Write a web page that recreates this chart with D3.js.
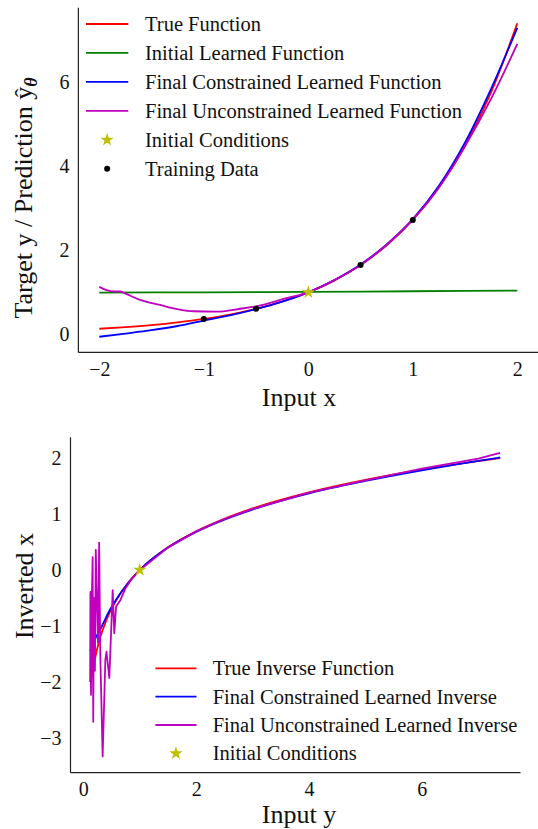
<!DOCTYPE html>
<html>
<head>
<meta charset="utf-8">
<script src="https://cdn.jsdelivr.net/npm/d3@7"></script>
<style>
  body { margin: 0; background: #fff; }
  svg { display: block; }
  text { font-family: "Liberation Serif", "Times New Roman", serif; fill: #111; }
</style>
</head>
<body>
<div class="chart"></div>
<script>
// ---- top panel data : y against x ----
const trueX = [-2, -1.75, -1.5, -1.25, -1, -0.75, -0.5, -0.25, 0, 0.25, 0.5, 0.75, 1, 1.25, 1.5, 1.75, 2];
const trueY = [0.135, 0.174, 0.223, 0.287, 0.368, 0.472, 0.607, 0.779, 1.0, 1.284, 1.649, 2.117, 2.718, 3.490, 4.482, 5.755, 7.389];

const initX = [-2, -1, 0, 1, 2];
const initY = [0.995, 1.0, 1.01, 1.025, 1.04];

const consX = [-2, -1.75, -1.5, -1.25, -1, -0.75, -0.5, -0.25, 0, 0.25, 0.5, 0.75, 1, 1.25, 1.5, 1.75, 2];
const consY = [-0.055, 0.02, 0.10, 0.20, 0.33, 0.45, 0.60, 0.78, 1.0, 1.29, 1.66, 2.14, 2.74, 3.53, 4.56, 5.84, 7.28];

const unconX = [-2, -1.93, -1.86, -1.8, -1.75, -1.61, -1.42, -1.23, -1.1, -0.88, -0.65, -0.49, -0.21, 0, 0.25, 0.5, 0.75, 1, 1.25, 1.5, 1.75, 2];
const unconY = [1.13, 1.05, 1.02, 1.02, 0.97, 0.82, 0.70, 0.59, 0.55, 0.54, 0.61, 0.67, 0.86, 1.0, 1.29, 1.65, 2.13, 2.73, 3.49, 4.47, 5.60, 6.90];

const trainX = [-1, -0.5, 0.5, 1];
const trainY = [0.368, 0.607, 1.649, 2.718];

const initCond = [0, 1];      // (x, y)
const initCondInv = [1, 0];   // (y, x)

// ---- bottom panel data : x against y ----
const invTrueY = [0.135, 0.2, 0.3, 0.4, 0.5, 0.6, 0.8, 1.0, 1.5, 2, 2.5, 3, 4, 5, 6, 7, 7.389];
const invTrueX = [-2.0, -1.61, -1.20, -0.92, -0.69, -0.51, -0.22, 0, 0.405, 0.693, 0.916, 1.099, 1.386, 1.609, 1.792, 1.946, 2.0];

const invConsY = [0.12, 0.2, 0.33, 0.45, 0.6, 0.78, 1.0, 1.5, 2, 2.5, 3, 4, 5, 6, 7, 7.39];
const invConsX = [-1.45, -1.25, -1.0, -0.75, -0.5, -0.25, 0, 0.40, 0.68, 0.90, 1.08, 1.37, 1.59, 1.78, 1.95, 2.01];

const invUnconY = [0.12, 0.125, 0.135, 0.15, 0.165, 0.175, 0.19, 0.205, 0.22, 0.24, 0.26, 0.28, 0.30, 0.342, 0.39, 0.41, 0.46, 0.50, 0.52, 0.548, 0.58, 0.65, 0.75, 0.85, 1.0, 1.5, 2, 2.5, 3, 4, 5, 6, 7, 7.39];
const invUnconX = [-2.0, -0.39, -2.23, -0.5, 0.23, -2.71, -0.5, -1.8, 0.36, -0.5, -1.3, 0.49, -1.5, -3.33, -1.6, -1.46, -1.93, -0.9, -0.36, -1.13, -0.65, -0.55, -0.32, -0.17, 0, 0.40, 0.69, 0.91, 1.09, 1.38, 1.60, 1.81, 1.99, 2.09];

const topXTicks = [-2, -1, 0, 1, 2];
const topYTicks = [0, 2, 4, 6];
const botXTicks = [0, 2, 4, 6];
const botYTicks = [-3, -2, -1, 0, 1, 2];

const topLegend = ["True Function", "Initial Learned Function", "Final Constrained Learned Function", "Final Unconstrained Learned Function", "Initial Conditions", "Training Data"];
const botLegend = ["True Inverse Function", "Final Constrained Learned Inverse", "Final Unconstrained Learned Inverse", "Initial Conditions"];

const W = 538, H = 829;
const col = { r: "#ff0000", g: "#008000", b: "#0000ff", m: "#bf00bf", y: "#bfbf00", k: "#000000" };

const svg = d3.select(".chart").append("svg")
    .attr("width", W)
    .attr("height", H);

function zip(a, b){ return a.map((v, i) => [v, b[i]]); }

function panel(opt){
    const x = d3.scaleLinear().domain(opt.xd).range(opt.xr);
    const y = d3.scaleLinear().domain(opt.yd).range(opt.yr);
    const g = svg.append("g");

    // spines (left + bottom only)
    g.append("line").attr("x1", opt.xr[0]).attr("x2", opt.xr[0])
        .attr("y1", opt.yr[1]).attr("y2", opt.yr[0])
        .attr("stroke", "#222").attr("stroke-width", 1.2);
    g.append("line").attr("x1", opt.xr[0]).attr("x2", opt.xr[1])
        .attr("y1", opt.yr[0]).attr("y2", opt.yr[0])
        .attr("stroke", "#222").attr("stroke-width", 1.2);

    // axes, tick marks hidden
    const ax = g.append("g").attr("transform", `translate(0,${opt.yr[0]})`)
        .call(d3.axisBottom(x).tickValues(opt.xt).tickSize(0).tickPadding(8)
            .tickFormat(d => String(d).replace("-", "\u2212")));
    ax.select(".domain").remove();
    ax.selectAll("text").attr("font-size", 20).attr("font-family", "Liberation Serif").attr("fill", "#111")
        .attr("dy", "0.78em");

    const ay = g.append("g").attr("transform", `translate(${opt.xr[0]},0)`)
        .call(d3.axisLeft(y).tickValues(opt.yt).tickSize(0).tickPadding(9)
            .tickFormat(d => String(d).replace("-", "\u2212")));
    ay.select(".domain").remove();
    ay.selectAll("text").attr("font-size", 20).attr("font-family", "Liberation Serif").attr("fill", "#111");

    const line = d3.line().x(d => x(d[0])).y(d => y(d[1]));
    opt.series.forEach(s => {
        g.append("path")
            .attr("d", line.curve(s.linear ? d3.curveLinear : d3.curveMonotoneX)(s.pts))
            .attr("fill", "none")
            .attr("stroke", s.c)
            .attr("stroke-width", 1.8)
            .attr("stroke-linejoin", "round");
    });

    if(opt.dots){
        g.selectAll(".dot").data(opt.dots).join("circle")
            .attr("cx", d => x(d[0])).attr("cy", d => y(d[1]))
            .attr("r", 3).attr("fill", col.k);
    }
    g.append("path")
        .attr("d", d3.symbol(d3.symbolStar, 55)())
        .attr("transform", `translate(${x(opt.star[0])},${y(opt.star[1])})`)
        .attr("fill", col.y);

    // legend
    const lg = g.append("g");
    opt.legend.forEach((t, i) => {
        const ly = opt.lgY + i*opt.lgStep;
        const kind = opt.lgKind[i];
        if(kind === "star"){
            lg.append("path").attr("d", d3.symbol(d3.symbolStar, 55)())
                .attr("transform", `translate(${(opt.lgX0+opt.lgX1)/2},${ly})`).attr("fill", col.y);
        } else if(kind === "dot"){
            lg.append("circle").attr("cx", (opt.lgX0+opt.lgX1)/2).attr("cy", ly).attr("r", 3).attr("fill", col.k);
        } else {
            lg.append("line").attr("x1", opt.lgX0).attr("x2", opt.lgX1).attr("y1", ly).attr("y2", ly)
                .attr("stroke", kind).attr("stroke-width", 1.8);
        }
        lg.append("text").attr("x", opt.lgTx).attr("y", ly + 7)
            .attr("font-size", 20.5).text(t);
    });

    // x axis label
    g.append("text").attr("x", opt.xlab[0]).attr("y", opt.xlab[1])
        .attr("text-anchor", "middle").attr("font-size", 26).text(opt.xlab[2]);
    return g;
}

// top panel
panel({
    xd: [-2.2, 2.2], xr: [78.4, 538.2],
    yd: [-0.427, 7.76], yr: [352.4, 7.7],
    xt: topXTicks, yt: topYTicks,
    series: [
        { pts: zip(initX, initY), c: col.g },
        { pts: zip(trueX, trueY), c: col.r },
        { pts: zip(consX, consY), c: col.b },
        { pts: zip(unconX, unconY), c: col.m }
    ],
    dots: zip(trainX, trainY),
    star: initCond,
    legend: topLegend,
    lgKind: [col.r, col.g, col.b, col.m, "star", "dot"],
    lgX0: 86, lgX1: 128.3, lgTx: 145, lgY: 24, lgStep: 28.95,
    xlab: [299, 406, "Input x"]
});

// y label with hat y and bold theta subscript
const yl = svg.append("text")
    .attr("transform", "translate(32,198) rotate(-90)")
    .attr("text-anchor", "middle")
    .attr("font-size", 26);
yl.append("tspan").text("Target y / Prediction \u0177");
yl.append("tspan").attr("font-size", 18).attr("font-weight", "bold").attr("font-style", "italic")
    .attr("dy", 5).text("\u03b8");

// bottom panel
panel({
    xd: [-0.228, 7.75], xr: [70.5, 520.5],
    yd: [-3.62, 2.37], yr: [772.7, 437.3],
    xt: botXTicks, yt: botYTicks,
    series: [
        { pts: zip(invTrueY, invTrueX), c: col.r },
        { pts: zip(invConsY, invConsX), c: col.b },
        { pts: zip(invUnconY, invUnconX), c: col.m, linear: true }
    ],
    dots: null,
    star: initCondInv,
    legend: botLegend,
    lgKind: [col.r, col.b, col.m, "star"],
    lgX0: 155.4, lgX1: 196.5, lgTx: 212.7, lgY: 668.3, lgStep: 28.35,
    xlab: [299, 823, "Input y"]
});

svg.append("text")
    .attr("transform", "translate(32.5,586) rotate(-90)")
    .attr("text-anchor", "middle")
    .attr("font-size", 26)
    .text("Inverted x");
</script>
</body>
</html>
